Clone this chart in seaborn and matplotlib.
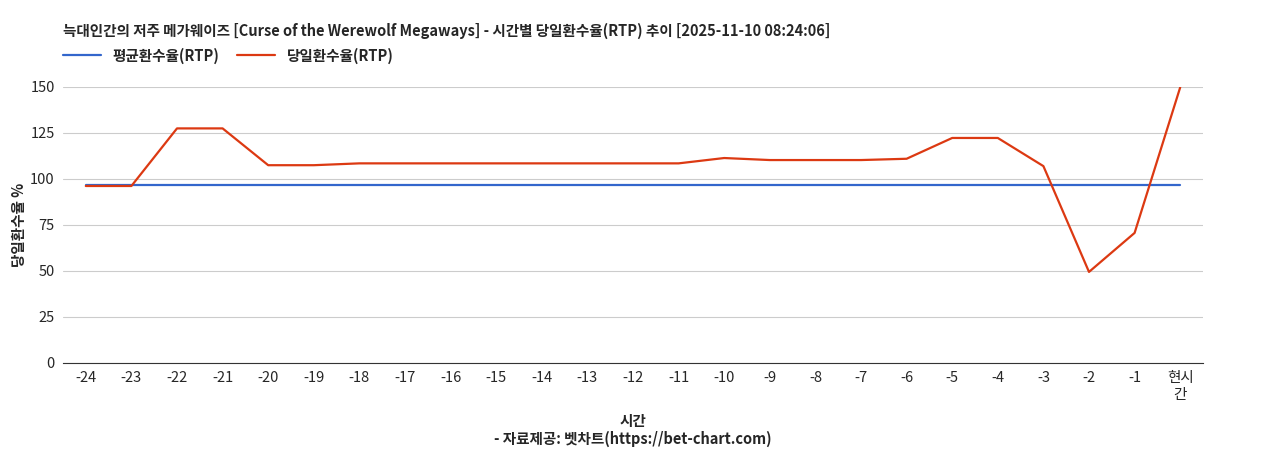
import matplotlib
matplotlib.use('Agg')
import matplotlib.pyplot as plt
import seaborn as sns
import pandas as pd

# 데이터
hours = ['-24', '-23', '-22', '-21', '-20', '-19', '-18', '-17', '-16', '-15', '-14', '-13',
         '-12', '-11', '-10', '-9', '-8', '-7', '-6', '-5', '-4', '-3', '-2', '-1', '현시\n간']
avg_rtp = [96.7] * 25
daily_rtp = [96.2, 96.2, 127.5, 127.5, 107.5, 107.5, 108.5, 108.5, 108.5, 108.5, 108.5, 108.5,
             108.5, 108.5, 111.4, 110.3, 110.3, 110.3, 111.0, 122.3, 122.3, 107.0, 49.5, 70.7, 149.8]

sns.set_style('white')
plt.rcParams['font.family'] = ['Noto Sans CJK KR', 'DejaVu Sans']

df = pd.DataFrame({'x': range(len(hours)), 'avg': avg_rtp, 'daily': daily_rtp})

fig = plt.figure(figsize=(12.68, 4.5), dpi=100)
ax = fig.add_axes([63 / 1268, 1 - 363 / 450, 1140 / 1268, 276 / 450])

sns.lineplot(data=df, x='x', y='avg', ax=ax, color='#3366cc', lw=1.6, label='평균환수율(RTP)')
sns.lineplot(data=df, x='x', y='daily', ax=ax, color='#dc3912', lw=1.6, label='당일환수율(RTP)')

ax.set_xlim(-0.5, len(hours) - 0.5)
ax.set_ylim(0, 150)
ax.set_yticks([0, 25, 50, 75, 100, 125, 150])
ax.set_xticks(range(len(hours)))
ax.set_xticklabels(hours)
ax.tick_params(labelsize=10.5, length=0, pad=6)
ax.grid(axis='y', color='#cccccc', lw=0.8)
ax.set_axisbelow(True)
for s in ['top', 'right', 'left']:
    ax.spines[s].set_visible(False)
ax.spines['bottom'].set_color('#333333')

ax.set_xlabel('시간\n- 자료제공: 벳차트(https://bet-chart.com)', fontsize=10.5, fontweight='bold', labelpad=8)
ax.set_ylabel('당일환수율 %', fontsize=10.5, fontweight='bold', labelpad=2)

fig.text(63 / 1268, 1 - 31 / 450, '늑대인간의 저주 메가웨이즈 [Curse of the Werewolf Megaways] - 시간별 당일환수율(RTP) 추이 [2025-11-10 08:24:06]',
         fontsize=10.5, fontweight='bold', va='center')
ax.legend(loc='lower left', bbox_to_anchor=(0, 1.085), ncol=2, frameon=False,
          handlelength=2.6, borderaxespad=0, borderpad=0, columnspacing=1.2,
          prop={'weight': 'bold', 'size': 10.5})

fig.savefig('out.png', dpi=100)
